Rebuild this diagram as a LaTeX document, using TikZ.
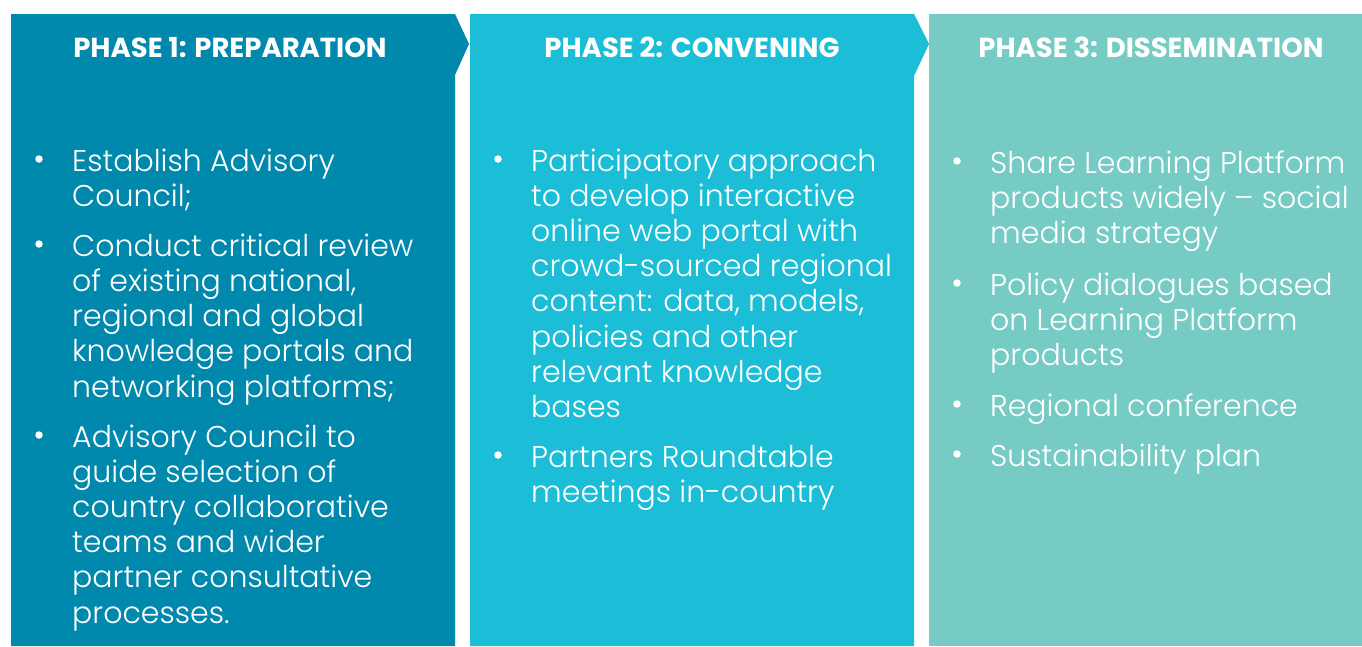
\documentclass[tikz,border=0pt]{standalone}
\usepackage{fontspec}
\setmainfont{Poppins}[UprightFont=* Light, BoldFont=* Bold]
\definecolor{cA}{HTML}{0089AD}
\definecolor{cB}{HTML}{1BBED6}
\definecolor{cC}{HTML}{77CBC5}
\begin{document}
\begin{tikzpicture}[x=1pt,y=-1pt,
  head/.style={text=white,font=\fontsize{27.5}{30}\bfseries\selectfont,anchor=base,inner sep=0pt},
  item/.style={text=white,font=\fontsize{30}{35.2}\selectfont,anchor=base west,inner sep=0pt,align=left},
  dot/.style={circle,fill=white,inner sep=0pt,minimum size=7.5pt}]
\useasboundingbox (0,0) rectangle (1362,646);
\fill[white] (0,0) rectangle (1362,646);
\fill[cA] (11,14) -- (455,14) -- (469,44) -- (455,75) -- (455,646) -- (11,646) -- cycle;
\fill[cB] (470,14) -- (914,14) -- (929,44) -- (914,76) -- (914,646) -- (470,646) -- cycle;
\fill[cC] (929,14) -- (1362,14) -- (1362,646) -- (929,646) -- cycle;
\node[head] (h1) at (230,57) {PHASE 1: PREPARATION};
\node[head] (h2) at (692,57) {PHASE 2: CONVENING};
\node[head] (h3) at (1151,57) {PHASE 3: DISSEMINATION};
% panel 1 (anchor = baseline of last line)
\node[dot] (b11) at (39,159) {};
\node[item] (t11) at (72,206.5) {Establish Advisory\\Council;};
\node[dot] (b12) at (39,244) {};
\node[item] (t12) at (72,397) {Conduct critical review\\of existing national,\\regional and global\\knowledge portals and\\networking platforms;};
\node[dot] (b13) at (39,435) {};
\node[item] (t13) at (72,623) {Advisory Council to\\guide selection of\\country collaborative\\teams and wider\\partner consultative\\processes.};
% panel 2
\node[dot] (b21) at (498,159) {};
\node[item] (t21) at (531,417.5) {Participatory approach\\to develop interactive\\online web portal with\\crowd-sourced regional\\content: data, models,\\policies and other\\relevant knowledge\\bases};
\node[dot] (b22) at (498,455) {};
\node[item] (t22) at (531,502.5) {Partners Roundtable\\meetings in-country};
% panel 3
\node[dot] (b31) at (957,161) {};
\node[item] (t31) at (990,243.5) {Share Learning Platform\\products widely – social\\media strategy};
\node[dot] (b32) at (957,283) {};
\node[item] (t32) at (990,365.5) {Policy dialogues based\\on Learning Platform\\products};
\node[dot] (b33) at (957,404) {};
\node[item] (t33) at (990,416) {Regional conference};
\node[dot] (b34) at (957,454) {};
\node[item] (t34) at (990,466) {Sustainability plan};
\end{tikzpicture}
\end{document}
